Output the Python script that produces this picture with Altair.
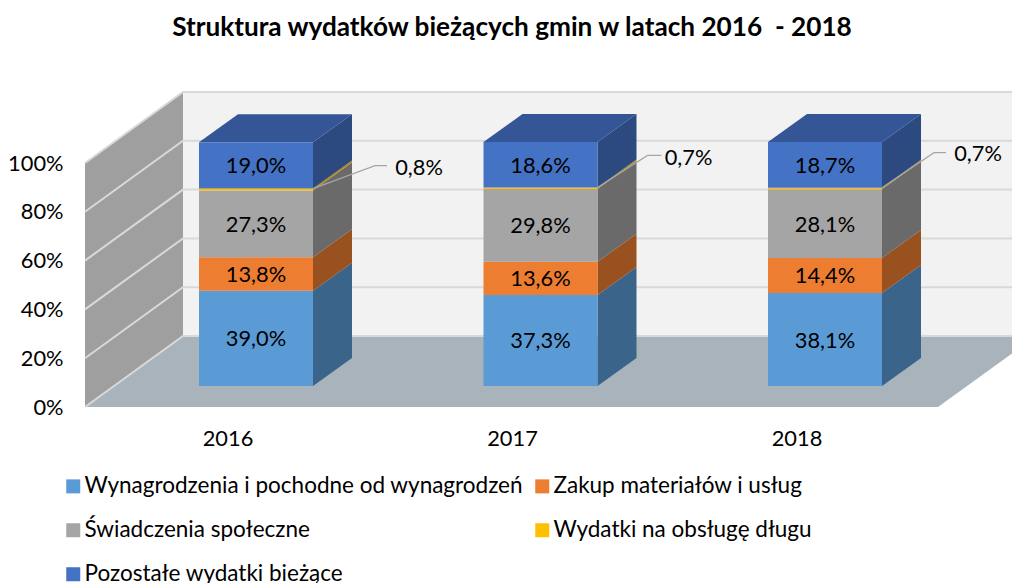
import altair as alt
import pandas as pd

# ---- values
years = ["2016", "2017", "2018"]
series = ["Wynagrodzenia i pochodne od wynagrodzeń", "Zakup materiałów i usług",
          "Świadczenia społeczne", "Wydatki na obsługę długu", "Pozostałe wydatki bieżące"]
wynagrodzenia = [39.0, 37.3, 38.1]
zakup = [13.8, 13.6, 14.4]
swiadczenia = [27.3, 29.8, 28.1]
dlug = [0.8, 0.7, 0.7]
pozostale = [19.0, 18.6, 18.7]
axis_ticks = [0, 20, 40, 60, 80, 100]

# ---- styles
front_colors = ["#5B9BD5", "#ED7D31", "#A5A5A5", "#FFC000", "#4472C4"]
side_colors = ["#3A6489", "#9A5120", "#6A6A6A", "#B48A10", "#2C4A80"]
top_color = "#345696"
FONT = "Lato"
TXT = 21.8

# ---- projection geometry, in data units (x: one slot per year, y: percent)
PX, PY = 284.5, 2.44
half = 57 / PX
bar_dx, bar_dy = 39 / PX, 28 / PY
gap_dy = 21 / PY
wall_dx, wall_dy = 98 / PX, 71 / PY
x_min, x_max = -171 / PX, 756 / PX
y_max = 324 / PY
floor_right = 682 / PX

xs = alt.Scale(domain=[x_min, x_max], nice=False, zero=False)
ys = alt.Scale(domain=[0, y_max], nice=False, zero=False)
x_axis = alt.Axis(values=[i - 28.5 / PX for i in range(3)], labelExpr="'' + (2016 + round(datum.value + 0.1))",
                  domain=False, ticks=False, grid=False, labelFont=FONT, labelFontSize=TXT, labelColor="#000000",
                  labelPadding=21, labelAngle=0, title=None)
y_axis = alt.Axis(values=axis_ticks, labelExpr="datum.value + '%'", domain=False, ticks=False, grid=False,
                  labelFont=FONT, labelFontSize=TXT, labelColor="#000000", labelPadding=22, title=None)
X = lambda f="x": alt.X(f"{f}:Q", scale=xs, axis=x_axis)
Y = lambda f="y": alt.Y(f"{f}:Q", scale=ys, axis=y_axis)

all_series = [wynagrodzenia, zakup, swiadczenia, dlug, pozostale]
front, side, top, text = [], [], [], []
for i, yr in enumerate(years):
    base = gap_dy
    for s, name in enumerate(series):
        v = all_series[s][i]
        lo, hi = base, base + v
        front.append(dict(x=i - half, x2=i + half, y=lo, y2=hi, name=name))
        for k in (0, 1):
            side.append(dict(x=i + half + k * bar_dx, y=lo + k * bar_dy, y2=hi + k * bar_dy,
                             face=f"{i}-{s}", shade=side_colors[s]))
        if s != 3:
            text.append(dict(x=i, y=(lo + hi) / 2, t=f"{v:.1f}%".replace(".", ",")))
        base = hi
    for k in (0, 1):
        top.append(dict(y=base + k * bar_dy, x=i - half + k * bar_dx, x2=i + half + k * bar_dx, face=str(i)))

front_df, side_df, top_df, text_df = map(pd.DataFrame, (front, side, top, text))

floor = pd.DataFrame([dict(y=0, x=x_min, x2=floor_right),
                      dict(y=wall_dy, x=x_min + wall_dx, x2=floor_right + wall_dx)])
side_wall = pd.DataFrame([dict(x=x_min, y=0, y2=100),
                          dict(x=x_min + wall_dx, y=wall_dy, y2=100 + wall_dy)])
back_wall = pd.DataFrame([dict(x=x_min + wall_dx, x2=x_max, y=wall_dy, y2=100 + wall_dy)])

grid = []
for v in axis_ticks:
    grid += [dict(x=x_min, y=v, lvl=v, o=0), dict(x=x_min + wall_dx, y=v + wall_dy, lvl=v, o=1),
             dict(x=x_max, y=v + wall_dy, lvl=v, o=2)]
grid_df = pd.DataFrame(grid)

# leader lines and outside labels for the thin series (offsets from the bar's corner)
lead_dx = [(62, 74), (50, 64), (52, 64)]
lead_dy = [23, 32, 35]
label_dx = [106, 91, 96]
label_dy = [21, 30, 34]
leader, outer = [], []
for i in range(3):
    start = gap_dy + wynagrodzenia[i] + zakup[i] + swiadczenia[i] + dlug[i]
    rx = i + half
    for o, (dx, dy) in enumerate([(0, 0), (lead_dx[i][0], lead_dy[i]), (lead_dx[i][1], lead_dy[i])]):
        leader.append(dict(x=rx + dx / PX, y=start + dy / PY, i=i, o=o))
    outer.append(dict(x=rx + label_dx[i] / PX, y=start + label_dy[i] / PY,
                      t=f"{dlug[i]:.1f}%".replace(".", ",")))
leader_df, outer_df = pd.DataFrame(leader), pd.DataFrame(outer)

layers = [
    alt.Chart(back_wall).mark_rect(color="#F2F2F2").encode(x=X(), x2="x2:Q", y=Y(), y2="y2:Q"),
    alt.Chart(side_wall).mark_area(color="#9F9F9F").encode(x=X(), y=Y(), y2="y2:Q"),
    alt.Chart(floor).mark_area(color="#A9B3BB", orient="horizontal", clip=True).encode(y=Y(), x=X(), x2="x2:Q"),
    alt.Chart(grid_df).mark_line(color="#D9D9D9", strokeWidth=2).encode(
        x=X(), y=Y(), detail="lvl:N", order="o:Q"),
    alt.Chart(side_df).mark_area().encode(
        x=X(), y=Y(), y2="y2:Q", detail="face:N", fill=alt.Fill("shade:N", scale=None, legend=None)),
    alt.Chart(top_df).mark_area(color=top_color, orient="horizontal").encode(
        y=Y(), x=X(), x2="x2:Q", detail="face:N"),
    alt.Chart(front_df).mark_rect().encode(
        x=X(), x2="x2:Q", y=Y(), y2="y2:Q",
        color=alt.Color("name:N", scale=alt.Scale(domain=series, range=front_colors), legend=alt.Legend(
            title=None, orient="none", legendX=-23, legendY=392, columns=2, direction="horizontal",
            symbolType="square", symbolSize=196, symbolStrokeWidth=0, labelFont=FONT, labelFontSize=22.5,
            labelColor="#000000", labelLimit=600, rowPadding=21, columnPadding=7, labelOffset=0,
            symbolOpacity=1)),
    ),
    alt.Chart(leader_df).mark_line(color="#A6A6A6", strokeWidth=1.2).encode(
        x=X(), y=Y(), detail="i:N", order="o:Q"),
    alt.Chart(text_df).mark_text(font=FONT, fontSize=TXT, color="#000000", dy=1).encode(x=X(), y=Y(), text="t:N"),
    alt.Chart(outer_df).mark_text(font=FONT, fontSize=TXT, color="#000000", dy=0.5).encode(x=X(), y=Y(), text="t:N"),
]

chart = alt.layer(*layers).resolve_scale(color="independent", fill="independent").properties(
    width=927, height=324,
    autosize=alt.AutoSizeParams(type="none"),
    padding={"left": 77, "top": 75, "right": 0, "bottom": 176},
    title=alt.TitleParams("Struktura wydatków bieżących gmin w latach 2016 \u00a0- 2018", font=FONT, fontSize=26.2,
                          fontWeight="bold", color="#000000", anchor="middle", dx=-36.5, offset=42),
    background="white",
).configure_view(stroke=None)

chart.save("out.html", embed_options={"renderer": "svg", "actions": False})
